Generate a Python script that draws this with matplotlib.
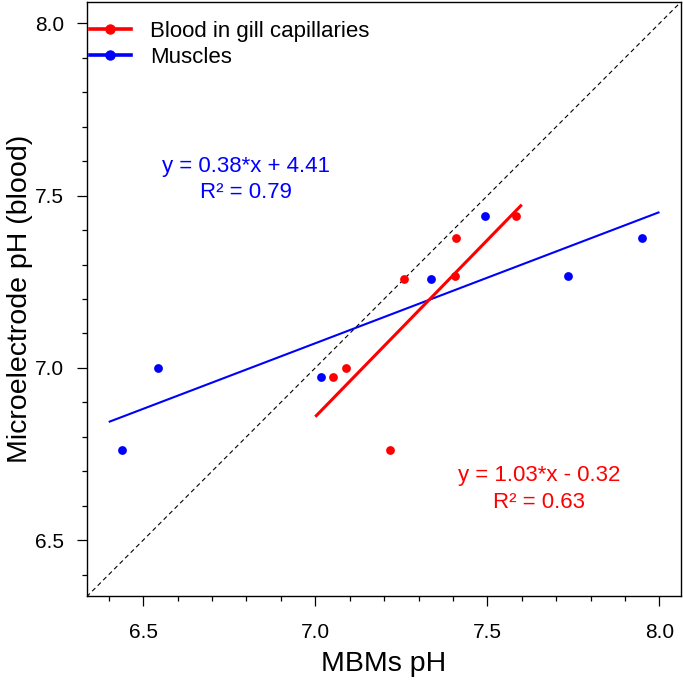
import numpy as np
import matplotlib
matplotlib.use("Agg")
import matplotlib.pyplot as plt
from matplotlib.lines import Line2D
from matplotlib.ticker import MultipleLocator

plt.rcParams['font.family'] = ['Liberation Sans', 'DejaVu Sans']

# --- data ---
blood_x = [7.051, 7.090, 7.217, 7.259, 7.406, 7.409, 7.584]
blood_y = [6.974, 7.000, 6.761, 7.257, 7.267, 7.377, 7.440]
muscle_x = [6.439, 6.543, 7.016, 7.337, 7.493, 7.734, 7.948]
muscle_y = [6.761, 7.000, 6.974, 7.257, 7.440, 7.267, 7.377]
blood_fit_range = [7.0, 7.6]
muscle_fit_range = [6.4, 8.0]
blood_eq = ["y = 1.03*x - 0.32", "R² = 0.63"]
muscle_eq = ["y = 0.38*x + 4.41", "R² = 0.79"]
labels = ["Blood in gill capillaries", "Muscles"]
xlim = (6.336, 8.064)
ylim = (6.338, 8.063)
RED = "#FF0000"
BLUE = "#0000FF"

fig = plt.figure(figsize=(6.83, 6.81), dpi=100)
ax = fig.add_axes([86.7 / 683, 1 - 596 / 681, (681.5 - 86.7) / 683, (596 - 1.7) / 681])

# identity line
ax.plot(xlim, xlim, color='black', lw=0.8, ls=(0, (4, 3)), zorder=1)

# regression lines
for xs, ys, rng, col, lw in [(muscle_x, muscle_y, muscle_fit_range, BLUE, 1.5),
                             (blood_x, blood_y, blood_fit_range, RED, 2.2)]:
    k, b = np.polyfit(xs, ys, 1)
    xx = np.array(rng)
    ax.plot(xx, k * xx + b, color=col, lw=lw, zorder=2, solid_capstyle='butt')

ax.scatter(blood_x, blood_y, s=40, color=RED, zorder=3, linewidths=0)
ax.scatter(muscle_x, muscle_y, s=40, color=BLUE, zorder=3, linewidths=0)

# equations
fs_txt = 16
ax.text(6.80, 7.584, muscle_eq[0], color=BLUE, fontsize=fs_txt, ha='center', va='center')
ax.text(6.80, 7.508, muscle_eq[1], color=BLUE, fontsize=fs_txt, ha='center', va='center')
ax.text(7.65, 6.689, blood_eq[0], color=RED, fontsize=fs_txt, ha='center', va='center')
ax.text(7.65, 6.608, blood_eq[1], color=RED, fontsize=fs_txt, ha='center', va='center')

ax.set_xlim(*xlim)
ax.set_ylim(*ylim)
ax.xaxis.set_major_locator(MultipleLocator(0.5))
ax.xaxis.set_minor_locator(MultipleLocator(0.1))
ax.yaxis.set_major_locator(MultipleLocator(0.5))
ax.yaxis.set_minor_locator(MultipleLocator(0.1))
ax.xaxis.set_major_formatter(plt.FormatStrFormatter('%.1f'))
ax.yaxis.set_major_formatter(plt.FormatStrFormatter('%.1f'))
ax.tick_params(which='major', length=7.2, width=0.9, labelsize=15)
ax.tick_params(which='minor', length=3.6, width=0.9)
ax.tick_params(axis='x', which='major', pad=12)
ax.tick_params(axis='y', which='major', pad=9)
for s in ax.spines.values():
    s.set_linewidth(1.0)

ax.set_xlabel("MBMs pH", fontsize=20.5, labelpad=7)
ax.set_ylabel("Microelectrode pH (blood)", fontsize=20.5, labelpad=1.5)

handles = [Line2D([], [], color=RED, lw=2.6, marker='o', markersize=6.5),
           Line2D([], [], color=BLUE, lw=2.6, marker='o', markersize=6.5)]
ax.legend(handles, labels, loc='upper left', frameon=False, fontsize=16,
          handlelength=1.85, handletextpad=0.85, labelspacing=0.22,
          borderaxespad=0.0, borderpad=0.0, bbox_to_anchor=(0.005, 0.968))

fig.savefig("out.png", dpi=100)
